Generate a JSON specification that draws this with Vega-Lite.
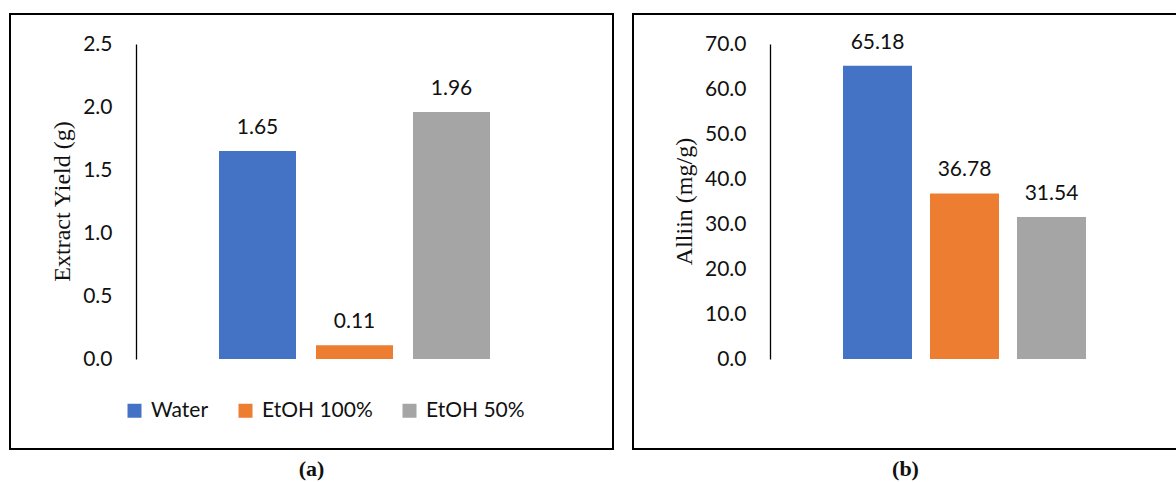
{
  "$schema": "https://vega.github.io/schema/vega-lite/v6.json",
  "background": "white",
  "padding": {"left": 9, "top": 13, "right": 0, "bottom": 0},
  "spacing": 18,
  "datasets": {
    "yield": [
      {"solvent": "Water", "value": 1.65},
      {"solvent": "EtOH 100%", "value": 0.11},
      {"solvent": "EtOH 50%", "value": 1.96}
    ],
    "alliin": [
      {"solvent": "Water", "value": 65.18},
      {"solvent": "EtOH 100%", "value": 36.78},
      {"solvent": "EtOH 50%", "value": 31.54}
    ]
  },
  "config": {
    "view": {"stroke": "#000", "strokeWidth": 2},
    "font": "Lato",
    "axis": {
      "domainColor": "#000",
      "domainWidth": 1.3,
      "ticks": false,
      "tickSize": 0,
      "grid": false,
      "labelFont": "Lato",
      "labelFontSize": 21,
      "labelColor": "#111",
      "labelPadding": 24,
      "titleFont": "Liberation Serif",
      "titleFontSize": 24,
      "titleFontWeight": "normal",
      "titleColor": "#111",
      "titleAngle": -90,
      "titleBaseline": "middle",
      "titleAlign": "center"
    },
    "legend": {
      "orient": "none",
      "direction": "horizontal",
      "symbolType": "square",
      "symbolSize": 196,
      "symbolStrokeWidth": 0,
      "labelFont": "Lato",
      "labelFontSize": 21,
      "labelColor": "#111",
      "labelOffset": 6,
      "columnPadding": 26,
      "title": null
    },
    "title": {
      "orient": "bottom",
      "font": "Liberation Serif",
      "fontSize": 22,
      "fontWeight": "bold",
      "color": "#111",
      "offset": 10,
      "anchor": "middle"
    }
  },
  "hconcat": [
    {
      "title": "(a)",
      "width": 603,
      "height": 435,
      "data": {"name": "yield"},
      "encoding": {
        "x": {
          "field": "solvent",
          "type": "nominal",
          "sort": ["Water", "EtOH 100%", "EtOH 50%"],
          "scale": {"range": [209, 480], "paddingInner": 0.2062, "paddingOuter": 0},
          "axis": null
        },
        "y": {
          "field": "value",
          "type": "quantitative",
          "scale": {"domain": [0, 2.5], "nice": false, "range": [345, 30]},
          "axis": {
            "values": [0, 0.5, 1, 1.5, 2, 2.5],
            "format": ".1f",
            "offset": -126,
            "title": "Extract Yield (g)",
            "titleX": -74,
            "titleY": 187
          }
        }
      },
      "layer": [
        {
          "mark": {"type": "bar"},
          "encoding": {
            "color": {
              "field": "solvent",
              "type": "nominal",
              "scale": {
                "domain": ["Water", "EtOH 100%", "EtOH 50%"],
                "range": ["#4472C4", "#ED7D31", "#A5A5A5"]
              },
              "legend": {"legendX": 114, "legendY": 386}
            }
          }
        },
        {
          "mark": {"type": "text", "baseline": "alphabetic", "dy": -17, "fontSize": 21, "color": "#111", "font": "Lato"},
          "encoding": {"text": {"field": "value", "type": "quantitative", "format": ".2f"}}
        }
      ]
    },
    {
      "title": "(b)",
      "width": 545,
      "height": 435,
      "data": {"name": "alliin"},
      "encoding": {
        "x": {
          "field": "solvent",
          "type": "nominal",
          "sort": ["Water", "EtOH 100%", "EtOH 50%"],
          "scale": {"range": [210, 453], "paddingInner": 0.2069, "paddingOuter": 0},
          "axis": null
        },
        "y": {
          "field": "value",
          "type": "quantitative",
          "scale": {"domain": [0, 70], "nice": false, "range": [345, 30]},
          "axis": {
            "values": [0, 10, 20, 30, 40, 50, 60, 70],
            "format": ".1f",
            "offset": -137,
            "title": "Alliin (mg/g)",
            "titleX": -86,
            "titleY": 187
          }
        }
      },
      "layer": [
        {
          "mark": {"type": "bar"},
          "encoding": {
            "color": {
              "field": "solvent",
              "type": "nominal",
              "scale": {
                "domain": ["Water", "EtOH 100%", "EtOH 50%"],
                "range": ["#4472C4", "#ED7D31", "#A5A5A5"]
              },
              "legend": {"legendX": 96, "legendY": 386}
            }
          }
        },
        {
          "mark": {"type": "text", "baseline": "alphabetic", "dy": -17, "fontSize": 21, "color": "#111", "font": "Lato"},
          "encoding": {"text": {"field": "value", "type": "quantitative", "format": ".2f"}}
        }
      ]
    }
  ]
}
